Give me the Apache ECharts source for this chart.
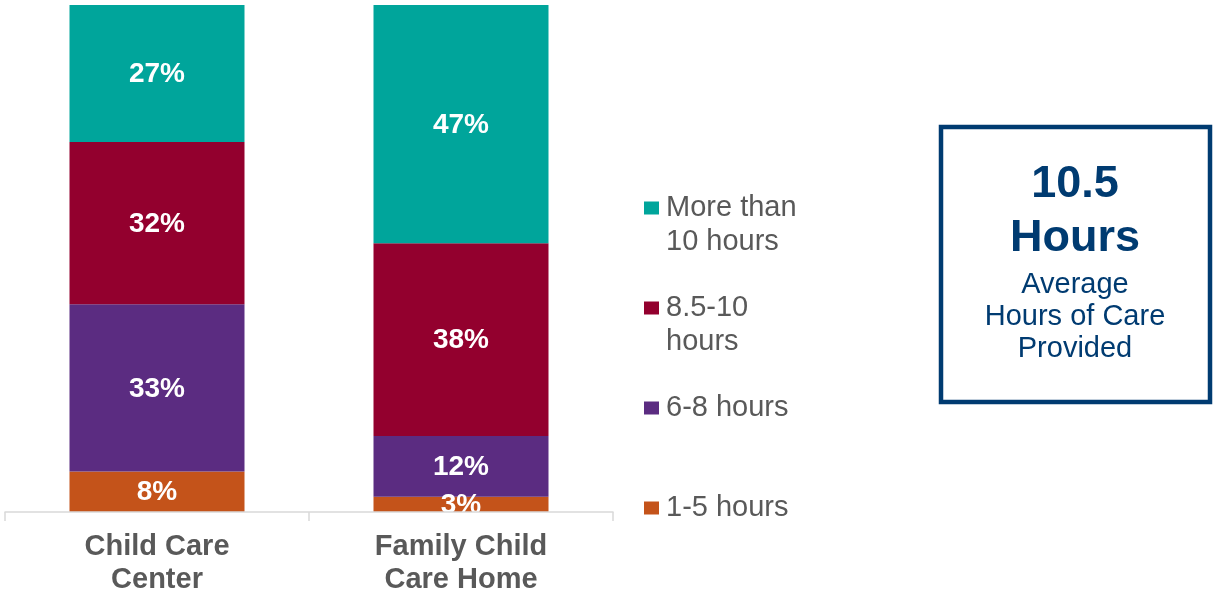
<!DOCTYPE html>
<html>
<head>
<meta charset="utf-8">
<title>Hours of Care Provided</title>
<script src="https://cdn.jsdelivr.net/npm/echarts@6/dist/echarts.min.js"></script>
<style>
  html, body { margin: 0; padding: 0; background: #ffffff; }
  #chart { width: 1213px; height: 596px; }
</style>
</head>
<body>
<div id="chart"></div>
<script>
// Categories (two-line axis labels)
const categories = ['Child Care\nCenter', 'Family Child\nCare Home'];

// Share of providers by hours of care per day (%), bottom to top of each stack
const hours1to5 = [8, 3];
const hours6to8 = [33, 12];
const hours8to10 = [32, 38];
const hoursOver10 = [27, 47];

// Legend names, listed top to bottom
const seriesNames = ['More than\n10 hours', '8.5-10\nhours', '6-8 hours', '1-5 hours'];

// Call-out box text
const avgValue = '10.5';
const avgUnit = 'Hours';
const avgCaption = 'Average\nHours of Care\nProvided';

const FONT = 'Arial, "Liberation Sans", Helvetica, sans-serif';
const GREY = '#595959';
const NAVY = '#003B71';
const COLORS = {
  over10: '#00A59B',
  h8to10: '#93002E',
  h6to8: '#5B2C81',
  h1to5: '#C4531A'
};

const GRID = { left: 5, right: 600, top: 5, bottom: 82 };
const CHART_H = 596;
const AXIS_Y = CHART_H - GRID.bottom;

const chart = echarts.init(document.getElementById('chart'), null, { renderer: 'canvas' });

function barSeries(name, data, color) {
  return {
    name: name,
    type: 'bar',
    stack: 'hours',
    data: data,
    barWidth: 175,
    itemStyle: { color: color },
    label: {
      show: true,
      position: 'inside',
      formatter: '{c}%',
      color: '#ffffff',
      fontFamily: FONT,
      fontWeight: 'bold',
      fontSize: 28,
      offset: [0, 1]
    },
    emphasis: { disabled: true }
  };
}

// One legend block per series; two-line names get an empty leading line so
// the swatch sits beside their first line.
function legendItem(name, top) {
  return {
    data: [name],
    formatter: function (n) {
      return n.indexOf('\n') >= 0 ? '\n' + n : n;
    },
    left: 644,
    top: top,
    padding: 0,
    icon: 'rect',
    itemWidth: 15,
    itemHeight: 13,
    itemGap: 0,
    selectedMode: false,
    textStyle: {
      color: GREY,
      fontFamily: FONT,
      fontSize: 29,
      lineHeight: 34,
      padding: [0, 0, 0, 2]
    }
  };
}

const option = {
  backgroundColor: '#ffffff',
  animation: false,
  grid: {
    left: GRID.left,
    right: GRID.right,
    top: GRID.top,
    bottom: GRID.bottom,
    containLabel: false
  },
  xAxis: {
    type: 'category',
    data: categories,
    axisLine: { lineStyle: { color: '#d9d9d9', width: 1.5 } },
    axisTick: { show: true, length: 9, lineStyle: { color: '#d9d9d9', width: 1.5 } },
    axisLabel: {
      color: GREY,
      fontFamily: FONT,
      fontWeight: 'bold',
      fontSize: 29,
      lineHeight: 33,
      margin: 18
    },
    z: 5
  },
  yAxis: {
    type: 'value',
    min: 0,
    max: 100,
    show: false,
    splitLine: { show: false }
  },
  legend: [
    legendItem(seriesNames[0], 157),
    legendItem(seriesNames[1], 257),
    legendItem(seriesNames[2], 391),
    legendItem(seriesNames[3], 491)
  ],
  series: [
    barSeries(seriesNames[3], hours1to5, COLORS.h1to5),
    barSeries(seriesNames[2], hours6to8, COLORS.h6to8),
    barSeries(seriesNames[1], hours8to10, COLORS.h8to10),
    barSeries(seriesNames[0], hoursOver10, COLORS.over10)
  ],
  graphic: [
    // keeps bar labels from spilling below the baseline
    {
      type: 'rect',
      z: 100,
      silent: true,
      shape: { x: 340, y: AXIS_Y + 1, width: 240, height: 14 },
      style: { fill: '#ffffff' }
    },
    // call-out box
    {
      type: 'rect',
      z: 10,
      shape: { x: 941, y: 127, width: 269, height: 275 },
      style: { fill: '#ffffff', stroke: NAVY, lineWidth: 4.5 }
    },
    {
      type: 'text',
      z: 11,
      x: 1075,
      y: 185,
      style: {
        text: avgValue,
        fill: NAVY,
        font: 'bold 45px ' + FONT,
        align: 'center',
        verticalAlign: 'middle'
      }
    },
    {
      type: 'text',
      z: 11,
      x: 1075,
      y: 239,
      style: {
        text: avgUnit,
        fill: NAVY,
        font: 'bold 45px ' + FONT,
        align: 'center',
        verticalAlign: 'middle'
      }
    },
    {
      type: 'text',
      z: 11,
      x: 1075,
      y: 317,
      style: {
        text: avgCaption,
        fill: NAVY,
        font: '29px ' + FONT,
        lineHeight: 32,
        align: 'center',
        verticalAlign: 'middle'
      }
    }
  ]
};

chart.setOption(option);
</script>
</body>
</html>
